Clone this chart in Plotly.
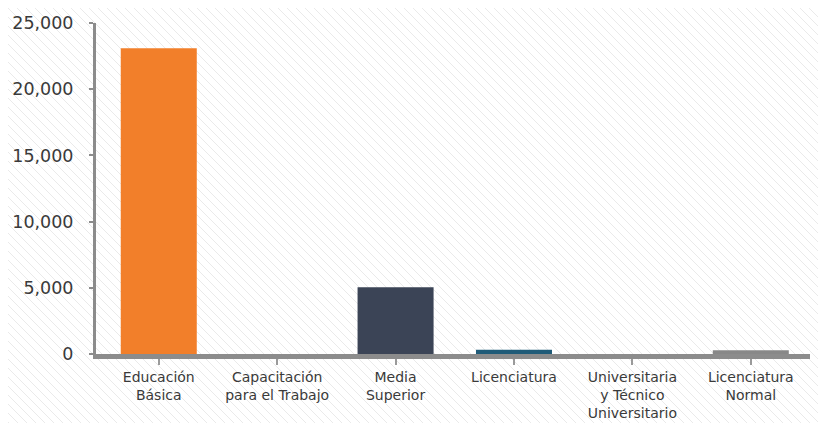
import base64
import plotly.graph_objects as go

categorias = [
    "Educación<br>Básica",
    "Capacitación<br>para el Trabajo",
    "Media<br>Superior",
    "Licenciatura",
    "Universitaria<br>y Técnico<br>Universitario",
    "Licenciatura<br>Normal",
]
valores = [23100, 0, 5050, 330, 0, 280]
colores = ["#F27F2A", "#F27F2A", "#3B4456", "#1F5B78", "#8C8C8C", "#888888"]

y_ticks = [0, 5000, 10000, 15000, 20000, 25000]
y_labels = ["0", "5,000", "10,000", "15,000", "20,000", "25,000"]

# la página añade 8 px de margen al cuerpo: 810 + 16 = 826, 415 + 16 = 431
W, H = 810, 415
ML, MR, MT, MB = 88, 8, 15, 69
pw, ph = W - ML - MR, H - MT - MB

# fondo con rayas diagonales finas
svg = (
    f'<svg xmlns="http://www.w3.org/2000/svg" width="{W}" height="{H}">'
    '<defs><pattern id="p" width="9" height="9" patternUnits="userSpaceOnUse">'
    '<path d="M-1,-1 L10,10 M-1,8 L1,10 M8,-1 L10,1" stroke="#e8e8e8" stroke-width="0.9"/>'
    "</pattern></defs>"
    f'<rect width="{W}" height="{H}" fill="url(#p)"/></svg>'
)
fondo = "data:image/svg+xml;base64," + base64.b64encode(svg.encode()).decode()

fig = go.Figure(
    go.Bar(
        x=categorias,
        y=valores,
        marker=dict(color=colores, line=dict(width=0)),
        width=0.642,
    )
)

fig.update_layout(
    width=W,
    height=H,
    margin=dict(l=ML, r=MR, t=MT, b=MB),
    paper_bgcolor="white",
    plot_bgcolor="rgba(0,0,0,0)",
    showlegend=False,
    font=dict(family="DejaVu Sans, sans-serif", color="#3a3a3a"),
    images=[
        dict(
            source=fondo,
            xref="paper",
            yref="paper",
            x=-ML / pw,
            y=1 + MT / ph,
            sizex=W / pw,
            sizey=H / ph,
            sizing="stretch",
            xanchor="left",
            yanchor="top",
            layer="below",
        )
    ],
    xaxis=dict(
        range=[-0.53, 5.5],
        automargin=False,
        showline=True,
        linewidth=5,
        linecolor="#8C8C8C",
        ticks="outside",
        ticklen=6,
        tickwidth=2,
        tickcolor="#9a9a9a",
        tickfont=dict(size=14, color="#3a3a3a"),
        showgrid=False,
        zeroline=False,
        fixedrange=True,
    ),
    yaxis=dict(
        range=[0, 25000],
        automargin=False,
        tickvals=y_ticks,
        ticktext=y_labels,
        showline=True,
        linewidth=3,
        linecolor="#8C8C8C",
        ticks="outside",
        ticklen=4,
        tickwidth=2,
        tickcolor="#8C8C8C",
        tickfont=dict(size=17.5, color="#3a3a3a"),
        ticklabelstandoff=12,
        showgrid=False,
        zeroline=False,
    ),
)

fig.write_html("out.html")
